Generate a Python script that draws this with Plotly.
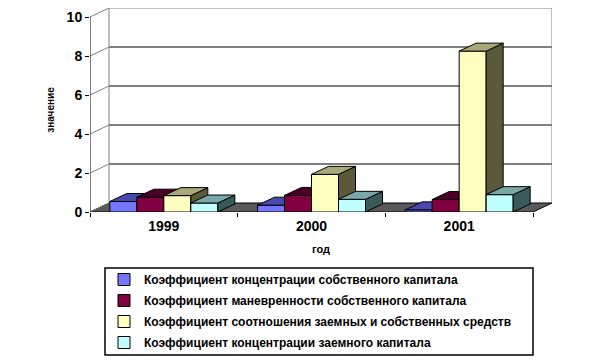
import plotly.graph_objects as go

# ---- data ----
years = ["1999", "2000", "2001"]
series_names = [
    "Коэффициент концентрации собственного капитала",
    "Коэффициент маневренности собственного капитала",
    "Коэффициент соотношения заемных и собственных средств",
    "Коэффициент концентрации заемного капитала",
]
conc_own = [0.54, 0.35, 0.11]
manoeuvre = [0.76, 0.85, 0.64]
debt_equity = [0.84, 1.93, 8.25]
conc_debt = [0.46, 0.65, 0.89]
y_ticks = [0, 2, 4, 6, 8, 10]

series_values = [conc_own, manoeuvre, debt_equity, conc_debt]

# ---- styles / geometry ----
front_cols = ["#7575FF", "#800040", "#FFFFC0", "#C0FFFF"]
top_cols = ["#4848B0", "#4C0026", "#A8A878", "#78A8A8"]
side_cols = ["#303078", "#33001A", "#5A5A38", "#385A5A"]

W, H = 603, 363
L, R, T, B = 90, 552, 8, 212
PXU = 443 / 3.0          # px per category unit
PYU = 19.5               # px per value unit
xr = [0.5, 0.5 + (R - L) / PXU]
yr = [0, (B - T) / PYU]
DXW, DYW = 19 / PXU, 9 / PYU    # wall depth
DXB, DYB = 17 / PXU, 8 / PYU    # bar depth
BW = 27 / PXU                   # bar width
FONT = "Liberation Sans, Arial, sans-serif"

xs = [1, 2, 3]
fig = go.Figure()

# each series on its own overlaid axis pair so later series paint over earlier ones
for si, vals in enumerate(series_values):
    xa = "x" if si == 0 else f"x{si + 1}"
    ya = "y" if si == 0 else f"y{si + 1}"
    fig.add_trace(go.Bar(
        x=xs, y=vals, name=series_names[si], width=BW,
        offset=-2 * BW + si * BW, xaxis=xa, yaxis=ya,
        marker=dict(color=front_cols[si], line=dict(color="black", width=1)),
        legendgroup=f"g{si}"))
    for ci, xc in enumerate(xs):
        v = vals[ci]
        x0 = xc - 2 * BW + si * BW
        x1 = x0 + BW
        fig.add_trace(go.Scatter(
            x=[x1, x1, x1 + DXB, x1 + DXB, x1],
            y=[0, v, v + DYB, DYB, 0], xaxis=xa, yaxis=ya,
            mode="lines", fill="toself", fillcolor=side_cols[si],
            line=dict(color="black", width=1), showlegend=False,
            hoverinfo="skip", legendgroup=f"g{si}"))
        fig.add_trace(go.Scatter(
            x=[x0, x1, x1 + DXB, x0 + DXB, x0],
            y=[v, v, v + DYB, v + DYB, v], xaxis=xa, yaxis=ya,
            mode="lines", fill="toself", fillcolor=top_cols[si],
            line=dict(color="black", width=1), showlegend=False,
            hoverinfo="skip", legendgroup=f"g{si}"))

shapes = []
# floor
shapes.append(dict(type="path", xref="x", yref="y", layer="below",
                   path=f"M 0.5 0 L 3.5 0 L {3.5 + DXW} {DYW} L {0.5 + DXW} {DYW} Z",
                   fillcolor="#5A5A5A", line=dict(color="black", width=1)))
# back wall gridlines
for v in y_ticks[1:-1]:
    shapes.append(dict(type="line", xref="x", yref="y", layer="below",
                       x0=0.5 + DXW, x1=3.5 + DXW, y0=v + DYW, y1=v + DYW,
                       line=dict(color="black", width=1)))
# back wall border
shapes.append(dict(type="path", xref="x", yref="y", layer="below",
                   path=(f"M {0.5 + DXW} {DYW} L {0.5 + DXW} {10 + DYW} "
                         f"L {3.5 + DXW} {10 + DYW} L {3.5 + DXW} {DYW}"),
                   line=dict(color="#808080", width=1)))
# left wall diagonals
for v in y_ticks:
    shapes.append(dict(type="line", xref="x", yref="y", layer="below",
                       x0=0.5, x1=0.5 + DXW, y0=v, y1=v + DYW,
                       line=dict(color="#808080", width=1)))
# front value axis line
shapes.append(dict(type="line", xref="x", yref="y", layer="above",
                   x0=0.5, x1=0.5, y0=0, y1=10, line=dict(color="black", width=1)))
# legend frame
pw, ph = R - L, B - T
def px_x(p): return (p - L) / pw
def px_y(p): return (B - p) / ph
shapes.append(dict(type="rect", xref="paper", yref="paper",
                   x0=px_x(105), x1=px_x(533), y0=px_y(355), y1=px_y(268),
                   line=dict(color="black", width=1.5), fillcolor="rgba(0,0,0,0)"))

layout = dict(
    width=W, height=H,
    margin=dict(l=L, r=W - R, t=T, b=H - B, pad=0, autoexpand=False),
    paper_bgcolor="white", plot_bgcolor="white",
    barmode="overlay",
    shapes=shapes,
    font=dict(family=FONT, color="black"),
    showlegend=True,
    legend=dict(x=px_x(104), y=px_y(265), xanchor="left", yanchor="top",
                bgcolor="rgba(0,0,0,0)", borderwidth=0,
                font=dict(family=FONT, size=12, weight="bold", color="black"),
                tracegroupgap=2, itemwidth=30, traceorder="grouped",
                groupclick="togglegroup"),
    xaxis=dict(range=xr, tickmode="array", tickvals=xs, ticktext=years,
               ticks="", showgrid=False, zeroline=False, showline=False,
               automargin=False,
               tickfont=dict(family=FONT, size=14, weight="bold"),
               ticklabelstandoff=4,
               minor=dict(tickvals=[0.5, 1.5, 2.5, 3.5], ticks="outside",
                          ticklen=4, tickcolor="black", showgrid=False),
               title=dict(text="год", standoff=12,
                          font=dict(family=FONT, size=11, weight="bold"))),
    yaxis=dict(range=yr, tickmode="array", tickvals=y_ticks,
               ticks="outside", ticklen=4, tickcolor="black",
               showgrid=False, zeroline=False, showline=False,
               automargin=False,
               tickfont=dict(family=FONT, size=14, weight="bold"),
               title=dict(text="значение", standoff=10,
                          font=dict(family=FONT, size=10, weight="bold"))),
)
for k in range(2, 5):
    layout[f"xaxis{k}"] = dict(range=xr, overlaying="x", visible=False)
    layout[f"yaxis{k}"] = dict(range=yr, overlaying="y", visible=False)
fig.update_layout(**layout)

fig.write_html("out.html", post_script="document.body.style.margin='0';",
               config={"displayModeBar": False})
